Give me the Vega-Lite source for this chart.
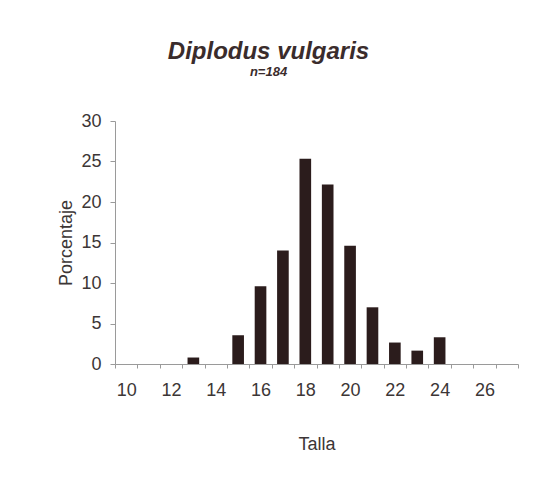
{
  "$schema": "https://vega.github.io/schema/vega-lite/v6.json",
  "autosize": "none",
  "width": 403,
  "height": 243,
  "padding": {"left": 115, "top": 121, "right": 23, "bottom": 137},
  "background": "white",
  "title": {
    "text": "Diplodus vulgaris",
    "subtitle": "n=184",
    "anchor": "middle",
    "dx": -48,
    "offset": 33,
    "font": "Liberation Sans",
    "fontSize": 24,
    "fontStyle": "italic",
    "fontWeight": "bold",
    "color": "#3a2c2c",
    "subtitleFont": "Liberation Sans",
    "subtitleFontSize": 13,
    "subtitleFontStyle": "italic",
    "subtitleFontWeight": "bold",
    "subtitleColor": "#3a2c2c",
    "subtitlePadding": 2
  },
  "data": {
    "values": [
      {"Talla": 13, "Porcentaje": 0.8},
      {"Talla": 15, "Porcentaje": 3.55},
      {"Talla": 16, "Porcentaje": 9.6},
      {"Talla": 17, "Porcentaje": 14.0},
      {"Talla": 18, "Porcentaje": 25.35},
      {"Talla": 19, "Porcentaje": 22.15},
      {"Talla": 20, "Porcentaje": 14.6},
      {"Talla": 21, "Porcentaje": 7.0},
      {"Talla": 22, "Porcentaje": 2.65},
      {"Talla": 23, "Porcentaje": 1.65},
      {"Talla": 24, "Porcentaje": 3.3}
    ]
  },
  "mark": {"type": "bar", "color": "#2b1c1c", "width": {"band": 0.52}},
  "encoding": {
    "x": {
      "field": "Talla",
      "type": "ordinal",
      "scale": {"domain": [10, 11, 12, 13, 14, 15, 16, 17, 18, 19, 20, 21, 22, 23, 24, 25, 26, 27], "paddingInner": 0, "paddingOuter": 0},
      "axis": {
        "title": "Talla",
        "labelAngle": 0,
        "tickBand": "extent",
        "labelExpr": "datum.value % 2 == 0 ? datum.label : ''",
        "tickSize": 4,
        "labelPadding": 13,
        "titlePadding": 36
      }
    },
    "y": {
      "field": "Porcentaje",
      "type": "quantitative",
      "scale": {"domain": [0, 30]},
      "axis": {
        "title": "Porcentaje",
        "values": [0, 5, 10, 15, 20, 25, 30],
        "grid": false,
        "tickSize": 5,
        "labelPadding": 9,
        "titlePadding": 5
      }
    }
  },
  "config": {
    "view": {"stroke": null},
    "axis": {
      "labelFont": "Liberation Sans",
      "labelFontSize": 18,
      "labelColor": "#3c3636",
      "titleFont": "Liberation Sans",
      "titleFontSize": 18,
      "titleFontWeight": "normal",
      "titleColor": "#3c3636",
      "domainColor": "#9a9a9a",
      "tickColor": "#9a9a9a"
    }
  }
}
